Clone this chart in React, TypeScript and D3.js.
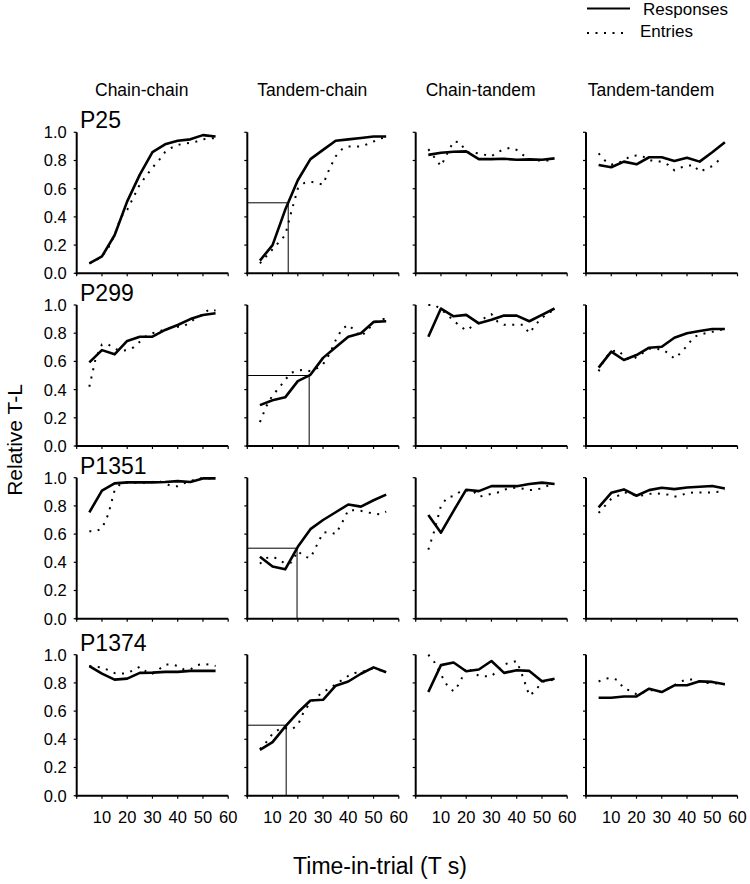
import React from "react";
import * as d3 from "d3";

// ---- data ----
const subjects = ["P25", "P299", "P1351", "P1374"];
const conditions = ["Chain-chain", "Tandem-chain", "Chain-tandem", "Tandem-tandem"];
const responseTimes = [5, 10, 15, 20, 25, 30, 35, 40, 45, 50, 55];
const entryTimes = [5, 7.5, 10, 12.5, 15, 17.5, 20, 22.5, 25, 27.5, 30, 32.5, 35, 37.5, 40, 42.5, 45, 47.5, 50, 52.5, 55];
const xTickLabels = [10, 20, 30, 40, 50, 60];
const xTickValues = [0, 10, 20, 30, 40, 50, 60];
const yTickValues = [0, 0.2, 0.4, 0.6, 0.8, 1.0];
const halfTimes = [16.2, 24.5, 19.7, 15.4]; // tandem-chain 0.5 crossing per subject

// responses[subject][condition]
const responsesP25 = [
  [0.07, 0.12, 0.27, 0.51, 0.70, 0.86, 0.915, 0.94, 0.95, 0.98, 0.97],
  [0.09, 0.20, 0.45, 0.66, 0.81, 0.875, 0.94, 0.95, 0.96, 0.97, 0.97],
  [0.84, 0.855, 0.862, 0.865, 0.81, 0.81, 0.812, 0.805, 0.808, 0.805, 0.815],
  [0.768, 0.752, 0.792, 0.773, 0.823, 0.823, 0.797, 0.82, 0.792, 0.858, 0.929],
];
const responsesP299 = [
  [0.593, 0.68, 0.65, 0.745, 0.775, 0.775, 0.823, 0.858, 0.9, 0.929, 0.941],
  [0.29, 0.325, 0.345, 0.46, 0.505, 0.625, 0.7, 0.775, 0.8, 0.88, 0.885],
  [0.775, 0.975, 0.92, 0.93, 0.87, 0.895, 0.925, 0.925, 0.885, 0.93, 0.975],
  [0.556, 0.669, 0.61, 0.645, 0.697, 0.704, 0.768, 0.8, 0.816, 0.83, 0.83],
];
const responsesP1351 = [
  [0.754, 0.908, 0.96, 0.967, 0.967, 0.967, 0.97, 0.976, 0.97, 0.995, 0.995],
  [0.44, 0.37, 0.35, 0.51, 0.635, 0.7, 0.755, 0.81, 0.795, 0.84, 0.88],
  [0.735, 0.61, 0.765, 0.915, 0.905, 0.94, 0.94, 0.94, 0.955, 0.965, 0.955],
  [0.789, 0.893, 0.917, 0.872, 0.912, 0.929, 0.919, 0.931, 0.936, 0.941, 0.924],
];
const responsesP1374 = [
  [0.919, 0.866, 0.823, 0.83, 0.871, 0.873, 0.878, 0.878, 0.885, 0.885, 0.885],
  [0.325, 0.38, 0.49, 0.59, 0.675, 0.68, 0.78, 0.81, 0.865, 0.91, 0.875],
  [0.735, 0.926, 0.945, 0.883, 0.895, 0.955, 0.871, 0.89, 0.885, 0.811, 0.83],
  [0.695, 0.695, 0.704, 0.704, 0.759, 0.735, 0.783, 0.783, 0.811, 0.807, 0.79],
];

const entriesP25 = [
  [0.07, 0.09, 0.12, 0.18, 0.27, 0.4, 0.45, 0.54, 0.63, 0.69, 0.75, 0.8, 0.86, 0.89, 0.91, 0.92, 0.925, 0.935, 0.95, 0.955, 0.96],
  [0.07, 0.12, 0.17, 0.22, 0.27, 0.44, 0.6, 0.64, 0.65, 0.64, 0.63, 0.74, 0.83, 0.88, 0.9, 0.9, 0.9, 0.915, 0.935, 0.955, 0.965],
  [0.88, 0.82, 0.76, 0.85, 0.935, 0.93, 0.86, 0.858, 0.85, 0.84, 0.83, 0.86, 0.88, 0.89, 0.875, 0.84, 0.81, 0.8, 0.8, 0.8, 0.81],
  [0.85, 0.8, 0.77, 0.78, 0.8, 0.83, 0.835, 0.83, 0.8, 0.8, 0.79, 0.77, 0.73, 0.75, 0.76, 0.77, 0.72, 0.74, 0.76, 0.8, 0.8],
];
const entriesP299 = [
  [0.42, 0.62, 0.72, 0.72, 0.69, 0.675, 0.68, 0.7, 0.74, 0.78, 0.8, 0.81, 0.83, 0.84, 0.845, 0.85, 0.88, 0.91, 0.935, 0.97, 0.96],
  [0.17, 0.28, 0.36, 0.41, 0.47, 0.52, 0.535, 0.54, 0.53, 0.55, 0.58, 0.65, 0.75, 0.83, 0.86, 0.82, 0.775, 0.82, 0.87, 0.9, 0.9],
  [1.0, 1.0, 0.97, 0.93, 0.89, 0.85, 0.82, 0.85, 0.88, 0.91, 0.935, 0.88, 0.86, 0.86, 0.86, 0.86, 0.8, 0.86, 0.91, 0.94, 0.97],
  [0.53, 0.62, 0.67, 0.68, 0.64, 0.61, 0.63, 0.66, 0.69, 0.69, 0.685, 0.66, 0.62, 0.66, 0.71, 0.77, 0.79, 0.8, 0.81, 0.82, 0.83],
];
const entriesP1351 = [
  [0.62, 0.62, 0.64, 0.74, 0.91, 0.96, 0.965, 0.965, 0.965, 0.965, 0.97, 0.975, 0.96, 0.94, 0.94, 0.96, 0.975, 0.99, 1.0, 0.995, 0.995],
  [0.39, 0.43, 0.44, 0.42, 0.39, 0.4, 0.48, 0.44, 0.43, 0.52, 0.61, 0.615, 0.6, 0.68, 0.77, 0.77, 0.765, 0.755, 0.745, 0.74, 0.76],
  [0.49, 0.63, 0.8, 0.86, 0.87, 0.9, 0.91, 0.91, 0.865, 0.875, 0.885, 0.895, 0.915, 0.925, 0.93, 0.922, 0.912, 0.915, 0.925, 0.945, 0.955],
  [0.75, 0.8, 0.85, 0.87, 0.895, 0.89, 0.87, 0.875, 0.885, 0.89, 0.885, 0.88, 0.865, 0.875, 0.89, 0.895, 0.895, 0.895, 0.895, 0.9, 0.91],
];
const entriesP1374 = [
  [0.92, 0.915, 0.91, 0.89, 0.87, 0.865, 0.87, 0.89, 0.915, 0.88, 0.865, 0.895, 0.93, 0.93, 0.92, 0.895, 0.895, 0.925, 0.935, 0.93, 0.92],
  [0.33, 0.38, 0.44, 0.47, 0.48, 0.47, 0.5, 0.6, 0.66, 0.7, 0.735, 0.76, 0.79, 0.82, 0.85, 0.87, 0.875, 0.89, 0.905, 0.89, 0.875],
  [1.0, 0.945, 0.86, 0.78, 0.74, 0.8, 0.91, 0.88, 0.85, 0.847, 0.847, 0.89, 0.93, 0.945, 0.955, 0.84, 0.71, 0.745, 0.81, 0.81, 0.83],
  [0.81, 0.83, 0.835, 0.82, 0.76, 0.745, 0.72, 0.73, 0.75, 0.745, 0.735, 0.76, 0.785, 0.81, 0.825, 0.825, 0.81, 0.8, 0.8, 0.795, 0.79],
];

const responses = [responsesP25, responsesP299, responsesP1351, responsesP1374];
const entries = [entriesP25, entriesP299, entriesP1351, entriesP1374];

// ---- layout ----
const W = 750;
const H = 884;
const colX0 = [76.7, 247.3, 415.7, 586];
const plotW = 151.5;
const rowTop = [132.3, 305, 477.7, 654.7];
const plotH = 141;
const FONT = "'Liberation Sans', Arial, Helvetica, sans-serif";

function Panel({ r, c }: { r: number; c: number }) {
  const x = d3.scaleLinear().domain([0, 60]).range([colX0[c], colX0[c] + plotW]);
  const y = d3.scaleLinear().domain([0, 1]).range([rowTop[r] + plotH, rowTop[r]]);
  const lineR = d3
    .line<number>()
    .x((_, i) => x(responseTimes[i]))
    .y((d) => y(d));
  const lineE = d3
    .line<number>()
    .x((_, i) => x(entryTimes[i]))
    .y((d) => y(d));
  const y0 = y(0);
  const x0 = x(0);
  return (
    <g>
      {/* axes */}
      <line x1={x0} x2={x0} y1={y(1)} y2={y0 + 1} stroke="#000" strokeWidth={2} />
      <line x1={x0 - 1} x2={x(60)} y1={y0} y2={y0} stroke="#000" strokeWidth={2} />
      {yTickValues.map((t) => (
        <line key={"yt" + t} x1={x0 - 3} x2={x0} y1={y(t)} y2={y(t)} stroke="#000" strokeWidth={1.2} />
      ))}
      {xTickValues.map((t) => (
        <line key={"xt" + t} x1={x(t)} x2={x(t)} y1={y0} y2={y0 + 3} stroke="#000" strokeWidth={1.2} />
      ))}
      {c === 0 &&
        yTickValues.map((t) => (
          <text
            key={"yl" + t}
            x={x0 - 10}
            y={y(t)}
            dy="0.36em"
            textAnchor="end"
            fontSize={16.5}
            fontFamily={FONT}
          >
            {t.toFixed(1)}
          </text>
        ))}
      {r === 3 &&
        xTickLabels.map((t) => (
          <text key={"xl" + t} x={x(t)} y={y0 + 27} textAnchor="middle" fontSize={16.5} fontFamily={FONT}>
            {t}
          </text>
        ))}
      {c === 0 && (
        <text x={80} y={y(1) - 4} fontSize={23} fontFamily={FONT}>
          {subjects[r]}
        </text>
      )}
      {c === 1 && (
        <path
          d={`M${x0},${y(0.5)}H${x(halfTimes[r])}V${y0}`}
          fill="none"
          stroke="#000"
          strokeWidth={1}
        />
      )}
      <path
        d={lineE(entries[r][c]) || ""}
        fill="none"
        stroke="#000"
        strokeWidth={2}
        strokeDasharray="2 6.5"
      />
      <path
        d={lineR(responses[r][c]) || ""}
        fill="none"
        stroke="#000"
        strokeWidth={2.6}
        strokeLinejoin="round"
      />
    </g>
  );
}

export default function App() {
  return (
    <svg
      width={W}
      height={H}
      viewBox={`0 0 ${W} ${H}`}
      style={{ position: "absolute", left: 0, top: 0, background: "#fff" }}
    >
      <rect x={0} y={0} width={W} height={H} fill="#fff" />
      {/* legend */}
      <line x1={587} x2={630} y1={8.5} y2={8.5} stroke="#000" strokeWidth={2} />
      <text x={643} y={15} fontSize={17} fontFamily={FONT}>Responses</text>
      <line x1={587} x2={627} y1={33} y2={33} stroke="#000" strokeWidth={2} strokeDasharray="2 6.5" />
      <text x={640} y={37} fontSize={17} fontFamily={FONT}>Entries</text>

      {conditions.map((cond, c) => (
        <text key={cond} x={colX0[c] + 65} y={96} textAnchor="middle" fontSize={17.5} fontFamily={FONT}>
          {cond}
        </text>
      ))}

      {subjects.map((_, r) => conditions.map((__, c) => <Panel key={r + "-" + c} r={r} c={c} />))}

      <text
        transform="translate(22,440) rotate(-90)"
        textAnchor="middle"
        fontSize={21}
        fontFamily={FONT}
      >
        Relative T-L
      </text>
      <text x={380} y={874} textAnchor="middle" fontSize={23} fontFamily={FONT}>
        Time-in-trial (T s)
      </text>
    </svg>
  );
}
